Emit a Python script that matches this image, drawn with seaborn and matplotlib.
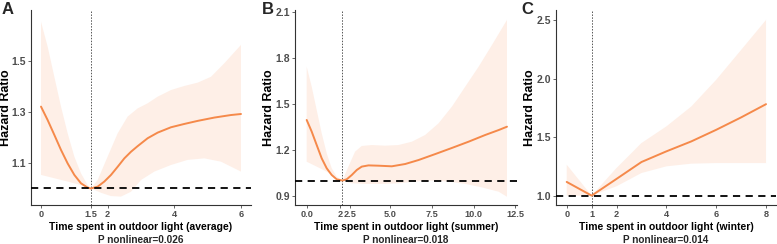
import numpy as np
import pandas as pd
import matplotlib
matplotlib.use("Agg")
import matplotlib.pyplot as plt
import seaborn as sns

# --- data ---
# Panel A: average
a_x = [0, 0.2, 0.4, 0.6, 0.8, 1.0, 1.2, 1.4, 1.5, 1.7, 1.9, 2.1, 2.3, 2.5, 2.7, 2.9, 3.2, 3.5, 3.9, 4.3, 4.7, 5.2, 5.7, 6.0]
a_hr = [1.321, 1.268, 1.210, 1.151, 1.098, 1.053, 1.020, 1.003, 1.0, 1.007, 1.027, 1.053, 1.085, 1.118, 1.144, 1.166,
        1.197, 1.219, 1.240, 1.253, 1.265, 1.278, 1.288, 1.292]
a_up_x = [0, 0.2, 0.4, 0.6, 0.8, 1.0, 1.2, 1.4, 1.5, 1.7, 2.0, 2.3, 2.6, 2.9, 3.2, 3.5, 3.9, 4.3, 4.7, 5.1, 5.5, 6.0]
a_hi = [1.654, 1.556, 1.438, 1.321, 1.216, 1.125, 1.059, 1.013, 1.0, 1.033, 1.125, 1.216, 1.282, 1.314, 1.334, 1.360,
        1.386, 1.402, 1.415, 1.438, 1.491, 1.563]
a_lo_x = [0, 0.4, 0.8, 1.2, 1.5, 1.8, 2.1, 2.4, 2.7, 3.0, 3.4, 3.9, 4.4, 4.9, 5.4, 6.0]
a_lo = [1.053, 1.040, 1.027, 1.013, 1.0, 0.983, 0.970, 0.968, 0.987, 1.033, 1.066, 1.092, 1.112, 1.118, 1.105, 1.066]
a_ref = 1.5
a_ticks = [0, 1.5, 2, 4, 6]
a_ticklabels = ["0", "1.5", "2", "4", "6"]
a_yticks = [1.1, 1.3, 1.5]

# Panel B: summer
b_x = [0, 0.3, 0.6, 0.9, 1.2, 1.5, 1.8, 2.14, 2.4, 2.7, 3.0, 3.3, 3.7, 4.3, 5.1, 5.9, 6.7, 7.7, 8.7, 9.7, 10.7, 11.5, 12.0]
b_hr = [1.396, 1.320, 1.232, 1.145, 1.080, 1.036, 1.008, 1.0, 1.008, 1.036, 1.069, 1.091, 1.099, 1.097, 1.093, 1.108,
        1.134, 1.173, 1.213, 1.254, 1.298, 1.330, 1.352]
b_up_x = [0, 0.3, 0.6, 0.9, 1.2, 1.5, 1.8, 2.14, 2.5, 2.9, 3.3, 3.9, 4.7, 5.5, 6.3, 7.1, 7.9, 8.7, 9.5, 10.3, 11.1, 12.0]
b_hi = [1.744, 1.614, 1.461, 1.309, 1.178, 1.080, 1.025, 1.0, 1.091, 1.189, 1.226, 1.232, 1.228, 1.232, 1.254, 1.298,
        1.374, 1.483, 1.614, 1.744, 1.886, 2.050]
b_lo_x = [0, 0.6, 1.2, 1.8, 2.14, 2.7, 3.5, 4.5, 5.5, 6.5, 7.5, 8.5, 9.5, 10.5, 11.5, 12.0]
b_lo = [1.123, 1.091, 1.058, 1.019, 1.0, 0.982, 0.978, 0.978, 0.982, 0.993, 1.0, 0.993, 0.978, 0.955, 0.927, 0.894]
b_ref = 2.14
b_ticks = [0, 2.0, 2.6, 5, 7.5, 10, 12.5]
b_ticklabels = ["0.0", "2", "2.5", "5.0", "7.5", "10.0", "12.5"]
b_yticks = [0.9, 1.2, 1.5, 1.8, 2.1]

# Panel C: winter
c_x = [0, 1, 2, 3, 4, 5, 6, 7, 8]
c_hr = [1.117, 1.0, 1.143, 1.287, 1.378, 1.463, 1.562, 1.668, 1.781]
c_hi = [1.264, 1.0, 1.236, 1.449, 1.591, 1.761, 1.989, 2.244, 2.5]
c_lo = [1.0, 1.0, 1.08, 1.193, 1.25, 1.273, 1.278, 1.278, 1.278]
c_ref = 1
c_ticks = [0, 1, 2, 4, 6, 8]
c_ticklabels = ["0", "1", "2", "4", "6", "8"]
c_yticks = [1.0, 1.5, 2.0, 2.5]

letters = ["A", "B", "C"]
xtitles = ["Time spent in outdoor light (average)",
           "Time spent in outdoor light (summer)",
           "Time spent in outdoor light (winter)"]
pvalues = ["P nonlinear=0.026", "P nonlinear=0.018", "P nonlinear=0.014"]

LINE = "#F5894A"
RIBBON = "#FEEFE7"
TICKCOL = "#4D4D4D"

sns.set_style("ticks")
plt.rcParams['font.family'] = ['Liberation Sans', 'DejaVu Sans']
plt.rcParams['font.weight'] = 'bold'

fig = plt.figure(figsize=(7.77, 2.44), dpi=100)
W, H = 777, 244
# axes boxes in pixels: left, right, top, bottom
boxes = [(31, 251, 10, 205), (295, 517, 10, 205), (556, 776, 10, 205)]
letter_x = [2, 262, 521]
ylabel_x = [6.5, 269, 530]

panels = [
    (a_x, a_hr, a_up_x, a_hi, a_lo_x, a_lo, a_ref, a_ticks, a_ticklabels, a_yticks, (-0.3, 6.3), (0.935, 1.70)),
    (b_x, b_hr, b_up_x, b_hi, b_lo_x, b_lo, b_ref, b_ticks, b_ticklabels, b_yticks, (-0.7, 12.6), (0.84, 2.115)),
    (c_x, c_hr, c_x, c_hi, c_x, c_lo, c_ref, c_ticks, c_ticklabels, c_yticks, (-0.43, 8.4), (0.92, 2.585)),
]

for i, (x, hr, ux, hi, lx, lo, ref, xt, xtl, yt, xlim, ylim) in enumerate(panels):
    l, r, t, b = boxes[i]
    ax = fig.add_axes([l / W, (H - b) / H, (r - l) / W, (b - t) / H])
    df = pd.DataFrame({"x": x, "hr": hr})

    # ribbon: upper and lower bounds were read at their own x positions
    ax.fill(list(ux) + list(lx)[::-1], list(hi) + list(lo)[::-1], color=RIBBON, lw=0, zorder=1)
    sns.lineplot(data=df, x="x", y="hr", ax=ax, color=LINE, lw=1.4, zorder=3)
    ax.axhline(1.0, color="black", lw=1.3, ls=(0, (4, 3)), zorder=4)
    ax.axvline(ref, color="#555555", lw=0.7, ls=(0, (1.5, 1.5)), zorder=2)

    ax.set_xlim(*xlim)
    ax.set_ylim(*ylim)
    ax.set_xticks(xt)
    ax.set_xticklabels(xtl)
    ax.set_yticks(yt)
    ax.tick_params(axis="x", labelsize=6.6, colors=TICKCOL, length=2, width=0.6, pad=1.5)
    ax.tick_params(axis="y", labelsize=7.5, colors=TICKCOL, length=2, width=0.6, pad=1.5)
    for lab in ax.get_xticklabels() + ax.get_yticklabels():
        lab.set_fontweight("bold")
    sns.despine(ax=ax)
    for s in ["left", "bottom"]:
        ax.spines[s].set_color("#333333")
        ax.spines[s].set_linewidth(0.8)

    ax.set_xlabel(xtitles[i], fontsize=7.5, fontweight="bold", color="black", labelpad=2)
    ax.set_ylabel("Hazard Ratio", fontsize=9, fontweight="bold", color="black")
    ax.yaxis.label.set_va("center")
    ax.yaxis.set_label_coords((ylabel_x[i] - l) / (r - l), 0.5)
    ax.text(0.5, (205 - 240) / 195, pvalues[i], transform=ax.transAxes,
            ha="center", va="center", fontsize=7.2, fontweight="bold")

    fig.text(letter_x[i] / W, 1 - 2 / H, letters[i], ha="left", va="top",
             fontsize=12, fontweight="bold")

fig.savefig("out.png", dpi=100)
